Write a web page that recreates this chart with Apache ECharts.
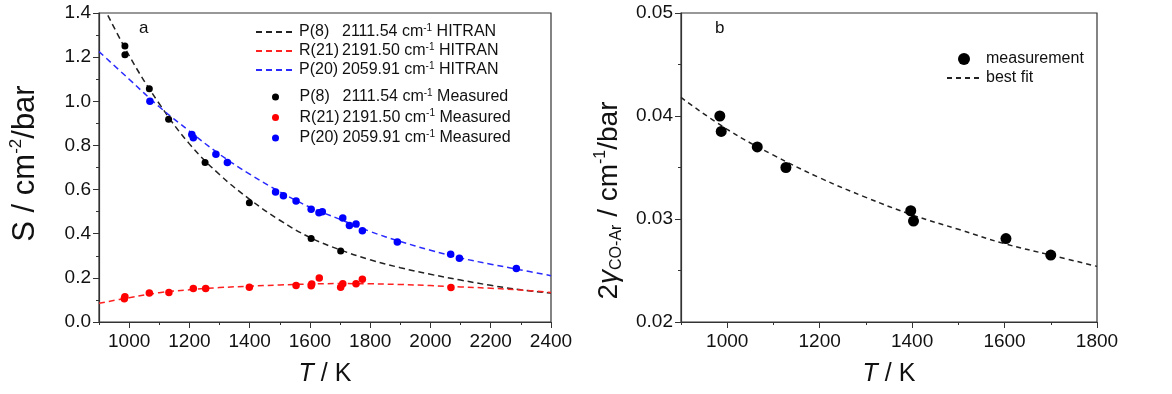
<!DOCTYPE html>
<html>
<head>
<meta charset="utf-8">
<script src="https://cdn.jsdelivr.net/npm/echarts@6.0.0/dist/echarts.min.js"></script>
<style>
html,body{margin:0;padding:0;background:#fff;}
#chart{width:1172px;height:394px;}
</style>
</head>
<body>
<div id="chart"></div>
<script>
// ---------- Panel a: line strength S vs T ----------
const lineNames = ['P(8)', 'R(21)', 'P(20)'];
const wavenumbers = ['2111.54', '2191.50', '2059.91'];

const hitranT = [900, 1000, 1100, 1200, 1300, 1400, 1500, 1600, 1700, 1800, 1900, 2000, 2100, 2200, 2300, 2400];
const p8Hitran  = [1.47, 1.207, 0.989, 0.807, 0.668, 0.556, 0.461, 0.383, 0.327, 0.282, 0.246, 0.216, 0.190, 0.166, 0.146, 0.131];
const r21Hitran = [0.085, 0.110, 0.133, 0.146, 0.156, 0.162, 0.168, 0.172, 0.174, 0.173, 0.170, 0.165, 0.159, 0.153, 0.145, 0.134];
const p20Hitran = [1.225, 1.10, 0.975, 0.865, 0.76, 0.67, 0.59, 0.52, 0.465, 0.41, 0.365, 0.325, 0.29, 0.262, 0.236, 0.21];

const p8MeasT = [986, 986, 1067, 1131, 1252, 1399, 1604, 1702];
const p8MeasS = [1.250, 1.211, 1.057, 0.919, 0.723, 0.540, 0.378, 0.322];

const r21MeasT = [984, 986, 1067, 1132, 1213, 1254, 1399, 1554, 1604, 1606, 1631, 1702, 1709, 1753, 1774, 2068];
const r21MeasS = [0.105, 0.114, 0.131, 0.134, 0.152, 0.152, 0.158, 0.165, 0.164, 0.172, 0.199, 0.158, 0.173, 0.173, 0.194, 0.156];

const p20MeasT = [1069, 1208, 1213, 1288, 1326, 1486, 1512, 1554, 1604, 1630, 1641, 1709, 1731, 1753, 1774, 1890, 2067, 2096, 2285];
const p20MeasS = [1.000, 0.850, 0.835, 0.760, 0.723, 0.589, 0.572, 0.548, 0.511, 0.495, 0.500, 0.471, 0.437, 0.444, 0.413, 0.363, 0.307, 0.289, 0.242];

// ---------- Panel b: broadening coefficient vs T ----------
const bMeasT = [984, 987, 1065, 1127, 1397, 1403, 1603, 1700];
const bMeasG = [0.0400, 0.0385, 0.0370, 0.0350, 0.0308, 0.0298, 0.0281, 0.0265];
const bFitT  = [900, 1000, 1100, 1200, 1300, 1400, 1500, 1600, 1700, 1800];
const bFitG  = [0.0418, 0.0387, 0.0362, 0.0340, 0.0321, 0.0304, 0.0290, 0.0276, 0.0265, 0.0254];

const xMajorA = [1000, 1200, 1400, 1600, 1800, 2000, 2200, 2400];
const xMajorB = [1000, 1200, 1400, 1600, 1800];

const zip = (xs, ys) => xs.map((x, i) => [x, ys[i]]);
const FONT = 'Liberation Sans, Arial, sans-serif';
const AX = '#333';
const TXT = '#111';

function legendFmt(name) {
  const parts = name.split(' ');
  const i = lineNames.indexOf(parts[0]);
  return '{n|' + parts[0] + '}{t|' + wavenumbers[i] + ' cm}{s|-1}{t| ' + parts[1] + '}';
}
const legendRich = {
  n: {fontSize: 16, fontFamily: FONT, color: TXT, width: 43, lineHeight: 18},
  t: {fontSize: 16, fontFamily: FONT, color: TXT, lineHeight: 18},
  s: {fontSize: 10, fontFamily: FONT, color: TXT, lineHeight: 10, verticalAlign: 'top'}
};
const noSym = {opacity: 0};

function baseX(grid, min, max, majors, nameText) {
  return [
    {
      gridIndex: grid, type: 'value', min: min, max: max, interval: 100,
      axisLine: {lineStyle: {color: AX, width: 1.2}},
      axisTick: {length: 3, lineStyle: {color: AX}},
      axisLabel: {
        fontSize: 19, fontFamily: FONT, color: TXT, margin: 10,
        formatter: v => (majors.indexOf(v) >= 0 ? String(v) : '')
      },
      splitLine: {show: false},
      name: nameText, nameLocation: 'middle', nameGap: 40,
      nameTextStyle: {
        rich: {
          i: {fontSize: 25, fontFamily: FONT, fontStyle: 'italic', color: TXT},
          n: {fontSize: 25, fontFamily: FONT, color: TXT}
        }
      }
    },
    {
      gridIndex: grid, type: 'value', min: min, max: max, position: 'bottom',
      axisLine: {show: false},
      axisTick: {show: true, length: 6, customValues: majors, lineStyle: {color: AX}},
      axisLabel: {show: false},
      splitLine: {show: false}
    }
  ];
}

const xAxes = baseX(0, 900, 2400, xMajorA, '{i|T}{n| / K}')
  .concat(baseX(1, 900, 1800, xMajorB, '{i|T}{n| / K}'));

const yAxes = [
  {
    gridIndex: 0, type: 'value', min: 0, max: 1.4, interval: 0.2,
    axisLine: {show: true, lineStyle: {color: AX, width: 1.2}},
    axisTick: {show: true, length: 6, lineStyle: {color: AX}},
    minorTick: {show: true, splitNumber: 2, length: 3, lineStyle: {color: AX}},
    axisLabel: {fontSize: 19, fontFamily: FONT, color: TXT, margin: 8, formatter: v => v.toFixed(1)},
    splitLine: {show: false},
    name: '{n|S / cm}{s|-2}{n|/bar}', nameLocation: 'middle', nameGap: 56, nameRotate: 90,
    nameTextStyle: {
      padding: [0, 0, 0, 8],
      rich: {
        n: {fontSize: 31, fontFamily: FONT, color: TXT, lineHeight: 35},
        s: {fontSize: 17, fontFamily: FONT, color: TXT, lineHeight: 16, verticalAlign: 'top'}
      }
    }
  },
  {
    gridIndex: 1, type: 'value', min: 0.02, max: 0.05, interval: 0.01,
    axisLine: {show: true, lineStyle: {color: AX, width: 1.2}},
    axisTick: {show: true, length: 6, lineStyle: {color: AX}},
    minorTick: {show: true, splitNumber: 2, length: 3, lineStyle: {color: AX}},
    axisLabel: {fontSize: 19, fontFamily: FONT, color: TXT, margin: 8, formatter: v => v.toFixed(2)},
    splitLine: {show: false},
    name: '{n|2}{g|γ}{b|CO-Ar}{n| / cm}{s|-1}{n|/bar}', nameLocation: 'middle', nameGap: 56, nameRotate: 90,
    nameTextStyle: {
      padding: [0, 66, 0, 0],
      rich: {
        n: {fontSize: 28, fontFamily: FONT, color: TXT, lineHeight: 32},
        g: {fontSize: 28, fontFamily: FONT, fontStyle: 'italic', color: TXT, lineHeight: 32},
        b: {fontSize: 16, fontFamily: FONT, color: TXT, lineHeight: 15, verticalAlign: 'bottom'},
        s: {fontSize: 16, fontFamily: FONT, color: TXT, lineHeight: 15, verticalAlign: 'top'}
      }
    }
  }
];

function dashed(name, xs, ys, color, xi, yi, dash) {
  return {
    name: name, type: 'line', xAxisIndex: xi, yAxisIndex: yi,
    data: zip(xs, ys), smooth: 0.4, symbol: 'none', showSymbol: false,
    lineStyle: {color: color, width: 1.5, type: dash},
    itemStyle: {color: color}, z: 2, silent: true
  };
}
function dots(name, xs, ys, color, size, xi, yi) {
  return {
    name: name, type: 'scatter', xAxisIndex: xi, yAxisIndex: yi,
    data: zip(xs, ys), symbol: 'circle', symbolSize: size,
    itemStyle: {color: color, opacity: 1}, z: 3, silent: true
  };
}

const option = {
  animation: false,
  backgroundColor: '#fff',
  title: [
    {text: 'a', left: 134, top: 15, textStyle: {fontSize: 17, fontWeight: 'normal', fontFamily: FONT, color: TXT}},
    {text: 'b', left: 710, top: 15, textStyle: {fontSize: 17, fontWeight: 'normal', fontFamily: FONT, color: TXT}}
  ],
  grid: [
    {left: 99, top: 13, width: 452, height: 309, show: true, borderColor: AX, borderWidth: 1.2, containLabel: false},
    {left: 681, top: 13, width: 416, height: 309, show: true, borderColor: AX, borderWidth: 1.2, containLabel: false}
  ],
  xAxis: xAxes,
  yAxis: yAxes,
  legend: [
    {
      data: [
        {name: 'P(8) HITRAN', itemStyle: noSym},
        {name: 'R(21) HITRAN', itemStyle: noSym},
        {name: 'P(20) HITRAN', itemStyle: noSym}
      ],
      orient: 'vertical', left: 250, top: 18, itemWidth: 38, itemHeight: 10, itemGap: 2,
      formatter: legendFmt, textStyle: {rich: legendRich}, selectedMode: false
    },
    {
      data: ['P(8) Measured', 'R(21) Measured', 'P(20) Measured'],
      orient: 'vertical', left: 267, top: 83, itemWidth: 38, itemHeight: 7, itemGap: 3.5,
      formatter: legendFmt, textStyle: {rich: legendRich}, selectedMode: false
    },
    {
      data: ['measurement', {name: 'best fit', itemStyle: noSym}],
      orient: 'vertical', left: 941, top: 45, itemWidth: 34, itemHeight: 12, itemGap: 1,
      textStyle: {fontSize: 16, fontFamily: FONT, color: TXT, lineHeight: 18}, selectedMode: false
    }
  ],
  series: [
    dashed('P(8) HITRAN', hitranT, p8Hitran, '#222', 0, 0, [6, 4]),
    dashed('R(21) HITRAN', hitranT, r21Hitran, '#ff2020', 0, 0, [6, 4]),
    dashed('P(20) HITRAN', hitranT, p20Hitran, '#2a2aff', 0, 0, [6, 4]),
    dots('P(8) Measured', p8MeasT, p8MeasS, '#000', 7, 0, 0),
    dots('R(21) Measured', r21MeasT, r21MeasS, '#ff0000', 7.5, 0, 0),
    dots('P(20) Measured', p20MeasT, p20MeasS, '#0000ff', 7.5, 0, 0),
    dashed('best fit', bFitT, bFitG, '#222', 2, 1, [5, 4]),
    dots('measurement', bMeasT, bMeasG, '#000', 11, 2, 1)
  ]
};

const chart = echarts.init(document.getElementById('chart'), null, {renderer: 'canvas'});
chart.setOption(option);
</script>
</body>
</html>
